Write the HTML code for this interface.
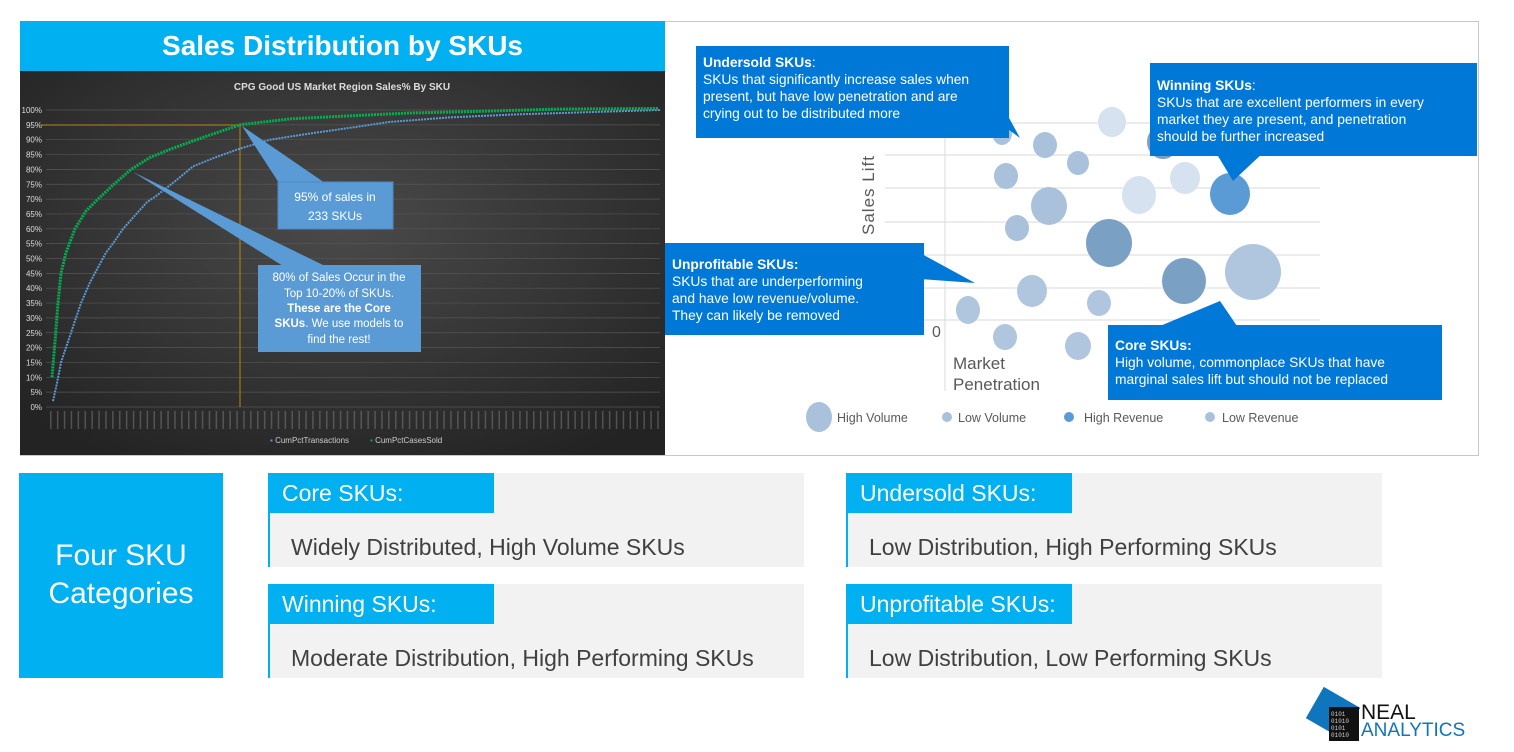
<!DOCTYPE html>
<html><head><meta charset="utf-8">
<style>
*{margin:0;padding:0;box-sizing:border-box}
body{width:1514px;height:752px;background:#fff;position:relative;overflow:hidden;font-family:"Liberation Sans",sans-serif}
.a{position:absolute}
.call{position:absolute;background:#0078d7;color:#fff;font-size:13.8px;line-height:17px;padding:8px 7px;white-space:nowrap}
.call b{font-weight:bold}
.card{position:absolute;width:536px;height:94px;background:#f2f2f2;border-left:2px solid #00b0f0}
.tab{position:absolute;left:-2px;top:0;width:226px;height:40px;background:#00b0f0;color:#fff;font-size:23px;line-height:40px;padding-left:14px}
.body{position:absolute;left:21px;top:60px;font-size:23px;color:#404040;line-height:28px}
</style></head><body>
<div class="a" style="left:20px;top:21px;width:645px;height:50px;background:#00b0f0;color:#fff;font-weight:bold;font-size:28px;text-align:center;line-height:50px">Sales Distribution by SKUs</div>
<div class="a" style="left:665px;top:21px;width:814px;height:435px;border:1px solid #c8c8c8;border-left:none"></div>
<div class="a" style="left:20px;top:455px;width:645px;height:1px;background:#c8c8c8"></div>
<svg class="a" style="left:20px;top:71px" width="645" height="384" id="ch">
<defs><radialGradient id="g" cx="50%" cy="40%" r="70%"><stop offset="0" stop-color="#4a4a4a"/><stop offset="1" stop-color="#232323"/></radialGradient></defs>
<rect width="645" height="384" fill="url(#g)"/>
<text x="322" y="19" fill="#ddd" font-size="10" text-anchor="middle" font-weight="bold">CPG Good US Market Region Sales% By SKU</text>
<g id="grid"></g>
<line x1="20" y1="54" x2="220" y2="54" stroke="#b8860b" stroke-width="1"/>
<line x1="220" y1="54" x2="220" y2="336" stroke="#b8860b" stroke-width="1"/>
<polyline id="bl" fill="none" stroke="#5b9bd5" stroke-width="2" stroke-dasharray="2 1"/>
<polyline id="gr" fill="none" stroke="#00b050" stroke-width="3" stroke-dasharray="2 1"/>
<polygon points="222,55 259,112 305,112" fill="#5b9bd5"/>
<polygon points="113,101 263,195 305,195" fill="#5b9bd5"/>
<rect x="258" y="111" width="115" height="47" fill="#5b9bd5" stroke="#4a8ac5"/>
<text x="315" y="130" fill="#fff" font-size="12" text-anchor="middle">95% of sales in</text>
<text x="315" y="149" fill="#fff" font-size="12" text-anchor="middle">233 SKUs</text>
<rect x="238" y="194" width="163" height="87" fill="#5b9bd5"/>
<g fill="#fff" font-size="11.5" text-anchor="middle">
<text x="319" y="210">80% of Sales Occur in the</text>
<text x="319" y="226">Top 10-20% of SKUs.</text>
<text x="319" y="241" font-weight="bold">These are the Core</text>
<text x="319" y="256"><tspan font-weight="bold">SKUs</tspan>. We use models to</text>
<text x="319" y="272">find the rest!</text>
</g>
<text x="250" y="372" fill="#ccc" font-size="8"><tspan fill="#5b9bd5">▪</tspan> CumPctTransactions</text>
<text x="350" y="372" fill="#ccc" font-size="8"><tspan fill="#00b050">▪</tspan> CumPctCasesSold</text>
</svg>
<script>
(function(){
var g=document.getElementById('grid'),s='';
for(var i=0;i<=20;i++){var y=336-i*14.85;
s+='<line x1="26" y1="'+y+'" x2="640" y2="'+y+'" stroke="#555" stroke-width="0.7"/>';
s+='<text x="22" y="'+(y+3)+'" fill="#ddd" font-size="8" text-anchor="end">'+(i*5)+'%</text>';}
for(var x=30;x<640;x+=6.9){s+='<rect x="'+x+'" y="340" width="1.5" height="18" fill="#8a8a8a" opacity="0.45"/>';}
g.innerHTML=s;
function pts(a){var p=[];for(var i=0;i<a.length;i+=2){p.push((a[i]-20)+','+(336-a[i+1]*2.97).toFixed(1));}return p.join(' ');}
document.getElementById('gr').setAttribute('points',pts([52,10,55,22,58,35,61,45,66,52,75,60,86,66,98,70,114,75,131,80,150,84,172,87,205,91,240,95,290,97,349,98,410,99,473,99.5,560,100.3,658,100.5]));
document.getElementById('bl').setAttribute('points',pts([53,2,57,8,61,15,67,21,73,27,81,35,90,42,98,47,106,52,115,56,123,60,131,63,139,66,147,69,156,71,175,76,193,81,215,84,240,87,270,90,308,92,350,94,390,96,450,97.5,514,98.5,590,99.3,660,100]));
})();
</script>
<svg class="a" style="left:665px;top:21px" width="814" height="434">
<g stroke="#d9d9d9" stroke-width="1">
<line x1="220" y1="102" x2="655" y2="102"/><line x1="220" y1="134" x2="655" y2="134"/><line x1="220" y1="167" x2="655" y2="167"/><line x1="220" y1="201" x2="655" y2="201"/><line x1="220" y1="234" x2="655" y2="234"/><line x1="220" y1="267" x2="655" y2="267"/><line x1="220" y1="299" x2="655" y2="299"/>
<line x1="280" y1="100" x2="280" y2="370"/>
</g>
<g>
<ellipse cx="337" cy="112" rx="10" ry="12" fill="#a9c1db"/>
<ellipse cx="380" cy="124" rx="12" ry="13" fill="#a9c1db"/>
<ellipse cx="447" cy="101" rx="14" ry="15" fill="#d6e2ef"/>
<ellipse cx="413" cy="142" rx="11" ry="12" fill="#a9c1db"/>
<ellipse cx="341" cy="155" rx="12" ry="13" fill="#a9c1db"/>
<ellipse cx="384" cy="185" rx="18" ry="19" fill="#a9c1db"/>
<ellipse cx="474" cy="174" rx="17" ry="19" fill="#d6e2ef"/>
<ellipse cx="520" cy="157" rx="15" ry="16" fill="#d6e2ef"/>
<ellipse cx="498" cy="121" rx="16" ry="17" fill="#7aa0c4"/>
<ellipse cx="565" cy="173" rx="20" ry="21" fill="#5b9bd5"/>
<ellipse cx="352" cy="207" rx="12" ry="13" fill="#a9c1db"/>
<ellipse cx="444" cy="222" rx="23" ry="24" fill="#7aa0c4"/>
<ellipse cx="367" cy="270" rx="15" ry="16" fill="#b0c6de"/>
<ellipse cx="434" cy="282" rx="12" ry="13" fill="#b0c6de"/>
<ellipse cx="519" cy="260" rx="22" ry="23" fill="#7aa0c4"/>
<ellipse cx="588" cy="251" rx="28" ry="28" fill="#b0c6de"/>
<ellipse cx="303" cy="289" rx="12" ry="14" fill="#b0c6de"/>
<ellipse cx="340" cy="316" rx="12" ry="13" fill="#b0c6de"/>
<ellipse cx="413" cy="325" rx="13" ry="14" fill="#b0c6de"/>
</g>
<text transform="translate(209,214) rotate(-90)" font-size="17" fill="#595959" letter-spacing="1">Sales Lift</text>
<text x="267" y="316" font-size="16" fill="#595959">0</text>
<text x="288" y="348" font-size="17" fill="#595959">Market</text>
<text x="288" y="369" font-size="17" fill="#595959">Penetration</text>
<polygon points="325,95 355,117 343,95" fill="#0078d7"/>
<polygon points="550,130 568,160 600,130" fill="#0078d7"/>
<polygon points="255,232 310,262 255,258" fill="#0078d7"/>
<polygon points="495,305 555,280 572,305" fill="#0078d7"/>
<g font-size="12.5" fill="#595959">
<ellipse cx="154" cy="396" rx="13" ry="15" fill="#a9c1db"/><text x="172" y="401">High Volume</text>
<circle cx="282" cy="396" r="5" fill="#a9c1db"/><text x="293" y="401">Low Volume</text>
<circle cx="404" cy="396" r="5" fill="#5b9bd5"/><text x="419" y="401">High Revenue</text>
<circle cx="545" cy="396" r="5" fill="#a9c1db"/><text x="557" y="401">Low Revenue</text>
</g>
</svg>
<div class="call" style="left:696px;top:46px;width:313px;height:92px"><b>Undersold SKUs</b>:<br>SKUs that significantly increase sales when<br>present, but have low penetration and are<br>crying out to be distributed more</div>
<div class="call" style="left:1150px;top:63px;width:327px;height:93px;padding-top:14px"><b>Winning SKUs</b>:<br>SKUs that are excellent performers in every<br>market they are present, and penetration<br>should be further increased</div>
<div class="call" style="left:665px;top:243px;width:259px;height:92px;padding-top:13px"><b>Unprofitable SKUs:</b><br>SKUs that are underperforming<br>and have low revenue/volume.<br>They can likely be removed</div>
<div class="call" style="left:1108px;top:325px;width:334px;height:75px;padding-top:12px"><b>Core SKUs:</b><br>High volume, commonplace SKUs that have<br>marginal sales lift but should not be replaced</div>
<div class="a" style="left:19px;top:473px;width:204px;height:205px;background:#00b0f0;color:#fff;font-size:30px;line-height:38px;text-align:center;padding-top:64px">Four SKU<br>Categories</div>
<div class="card" style="left:268px;top:473px"><div class="tab">Core SKUs:</div><div class="body">Widely Distributed, High Volume SKUs</div></div>
<div class="card" style="left:268px;top:584px"><div class="tab">Winning SKUs:</div><div class="body">Moderate Distribution, High Performing SKUs</div></div>
<div class="card" style="left:846px;top:473px"><div class="tab">Undersold SKUs:</div><div class="body">Low Distribution, High Performing SKUs</div></div>
<div class="card" style="left:846px;top:584px"><div class="tab">Unprofitable SKUs:</div><div class="body">Low Distribution, Low Performing SKUs</div></div>
<div class="a" style="left:1312px;top:695px;width:42px;height:36px;background:#0f75bc;transform:rotate(30deg)"></div>
<div class="a" style="left:1329px;top:707px;width:30px;height:34px;background:#111;color:#ccc;font-size:6px;line-height:7px;padding:4px 2px;font-family:'Liberation Mono',monospace">0101<br>01010<br>0101<br>01010</div>
<div class="a" style="left:1361px;top:703px;font-size:21px;line-height:20px;color:#111">NEAL</div>
<div class="a" style="left:1361px;top:721px;font-size:19px;line-height:20px;color:#0f75bc">ANALYTICS</div>
</body></html>
